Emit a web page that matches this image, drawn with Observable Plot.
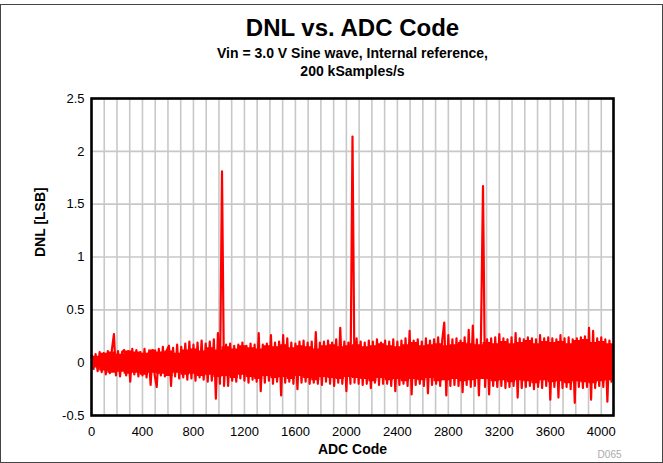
<!DOCTYPE html>
<html>
<head>
<meta charset="utf-8">
<script src="https://cdn.jsdelivr.net/npm/d3@7"></script>
<script src="https://cdn.jsdelivr.net/npm/@observablehq/plot@0.6"></script>
<style>
  html, body { margin: 0; padding: 0; background: #fff; }
  #wrap { position: relative; width: 663px; height: 463px; overflow: hidden; }
  #border { position: absolute; left: 0; top: 4px; width: 661px; height: 457px; border: 1px solid #444; pointer-events: none; }
</style>
</head>
<body>
<div id="wrap"><div id="border"></div></div>
<script>
// ---- Data ----
const titleText = "DNL vs. ADC Code";
const subtitle1 = "Vin = 3.0 V Sine wave, Internal reference,";
const subtitle2 = "200 kSamples/s";
const xLabel = "ADC Code";
const yLabel = "DNL [LSB]";
const figId = "D065";

const xTicks = [0, 400, 800, 1200, 1600, 2000, 2400, 2800, 3200, 3600, 4000];
const xGrid = [100,200,300,400,500,600,700,800,900,1000,1100,1200,1300,1400,1500,1600,1700,1800,1900,2000,
               2100,2200,2300,2400,2500,2600,2700,2800,2900,3000,3100,3200,3300,3400,3500,3600,3700,3800,3900,4000];
const yTicks = [-0.5, 0, 0.5, 1, 1.5, 2, 2.5];

// Solid part of the noisy trace: upper / lower edge read every 64 codes (0 ... 4096)
const coreStep = 64;
const coreHi = [
  0.06,0.09,0.10,0.08,0.11,0.10,0.09,0.12,0.10,0.11,0.09,0.12,0.13,0.11,0.14,0.12,
  0.15,0.13,0.16,0.14,0.13,0.16,0.15,0.17,0.14,0.16,0.15,0.13,0.16,0.17,0.15,0.16,
  0.17,0.15,0.16,0.18,0.16,0.15,0.17,0.19,0.16,0.17,0.18,0.16,0.17,0.19,0.18,0.17,
  0.19,0.18,0.20,0.18,0.19,0.21,0.18,0.20,0.19,0.20,0.18,0.21,0.22,0.19,0.20,0.18,
  0.15
];
const coreLo = [
  -0.05,-0.08,-0.10,-0.09,-0.11,-0.10,-0.12,-0.10,-0.11,-0.13,-0.10,-0.12,-0.11,-0.13,-0.12,-0.14,
  -0.13,-0.15,-0.12,-0.14,-0.16,-0.13,-0.15,-0.14,-0.16,-0.13,-0.15,-0.17,-0.14,-0.15,-0.16,-0.14,
  -0.15,-0.16,-0.18,-0.15,-0.17,-0.16,-0.18,-0.16,-0.17,-0.15,-0.18,-0.17,-0.16,-0.18,-0.17,-0.16,
  -0.16,-0.18,-0.17,-0.19,-0.17,-0.18,-0.20,-0.17,-0.19,-0.18,-0.20,-0.18,-0.19,-0.20,-0.18,-0.17,
  -0.14
];

const codeStep = 16; // codes between consecutive read values
// DNL values read every 16 codes (starting at code 0)
const dnl = [
  0.07,-0.06,0.08,-0.08,0.10,-0.09,0.09,-0.11,0.11,-0.10,0.12,0.27,-0.12,0.11,-0.13,0.10,
  0.12,-0.12,0.11,-0.18,0.13,-0.11,0.12,-0.13,0.10,-0.12,0.13,-0.14,0.09,-0.21,0.12,-0.12,
  -0.23,0.13,-0.12,0.15,-0.13,0.12,0.16,-0.22,0.14,-0.13,0.17,-0.15,0.15,-0.14,0.18,-0.16,
  0.20,-0.15,0.17,-0.17,0.19,-0.14,0.21,-0.16,0.18,-0.18,0.20,-0.17,0.22,-0.34,0.28,-0.20,
  1.81,-0.22,0.17,-0.22,0.18,-0.17,0.16,-0.18,0.17,-0.15,0.19,-0.17,0.16,-0.19,0.18,-0.16,
  0.17,-0.18,0.28,-0.27,0.17,-0.19,0.18,-0.17,0.26,-0.20,0.19,-0.18,0.20,-0.31,0.26,-0.19,
  0.23,-0.18,0.19,-0.20,0.18,-0.25,0.20,-0.19,0.21,-0.18,0.19,-0.20,0.20,-0.19,0.29,-0.20,
  0.19,-0.21,0.20,-0.18,0.21,-0.20,0.19,-0.22,0.22,-0.19,0.33,-0.20,0.20,-0.27,0.19,-0.20,
  2.14,-0.19,0.23,-0.20,0.20,-0.21,0.19,-0.20,0.21,-0.24,0.20,-0.19,0.22,-0.21,0.19,-0.20,
  0.21,-0.20,0.20,-0.22,0.22,-0.27,0.20,-0.21,0.21,-0.20,0.23,-0.22,0.30,-0.30,0.21,-0.21,
  0.22,-0.20,0.20,-0.22,0.23,-0.29,0.21,-0.21,0.22,-0.20,0.24,-0.22,0.21,0.38,-0.31,0.26,
  -0.22,0.22,-0.21,0.23,-0.22,0.21,-0.28,0.24,-0.21,0.31,-0.23,0.35,-0.22,0.22,-0.31,0.23,
  1.67,-0.23,0.22,-0.30,0.23,-0.22,0.24,-0.23,0.27,-0.22,0.23,-0.24,0.22,-0.23,0.24,-0.22,
  0.28,-0.33,0.23,-0.24,0.22,-0.23,0.24,-0.22,0.23,-0.25,0.22,-0.23,0.26,-0.24,0.23,-0.22,
  0.24,-0.35,0.23,-0.23,0.22,-0.33,0.26,-0.24,0.23,-0.23,0.24,-0.25,0.22,-0.38,0.23,-0.23,
  0.24,-0.24,0.25,-0.23,0.33,-0.35,0.30,-0.24,0.23,-0.22,0.24,-0.23,0.22,-0.37,0.21,-0.18
];

const data = dnl.map((v, i) => ({code: i * codeStep, dnl: v}));
const core = coreHi.map((h, i) => ({code: i * coreStep, hi: h, lo: coreLo[i]}));

const font = "'Liberation Sans', Arial, Helvetica, sans-serif";

const chart = Plot.plot({
  width: 663,
  height: 463,
  marginLeft: 91,
  marginRight: 50,
  marginTop: 98,
  marginBottom: 48,
  style: {fontFamily: font, fontSize: "13px", color: "#000", background: "transparent"},
  x: {domain: [0, 4096], label: null},
  y: {domain: [-0.5, 2.5], label: null},
  marks: [
    Plot.gridX(xGrid, {stroke: "#c8c8c8", strokeOpacity: 1, strokeWidth: 1.6}),
    Plot.gridY(yTicks, {stroke: "#c8c8c8", strokeOpacity: 1, strokeWidth: 1.6}),
    Plot.areaY(core, {x: "code", y1: "lo", y2: "hi", fill: "#ff0000", curve: "step-after"}),
    Plot.lineY(data, {x: "code", y: "dnl", stroke: "#ff0000", strokeWidth: 2.2}),
    Plot.frame({stroke: "#000", strokeWidth: 2.6}),
    Plot.axisX(xTicks, {tickSize: 0, tickPadding: 11, tickFormat: d => String(d), fontSize: 13, label: null}),
    Plot.axisY(yTicks, {tickSize: 0, tickPadding: 7, tickFormat: d => String(d), fontSize: 13, label: null}),
    Plot.text([titleText], {frameAnchor: "top", dy: -80, fontSize: 24, fontWeight: "bold"}),
    Plot.text([subtitle1], {frameAnchor: "top", dy: -50, fontSize: 14, fontWeight: "bold"}),
    Plot.text([subtitle2], {frameAnchor: "top", dy: -32, fontSize: 14, fontWeight: "bold"}),
    Plot.text([yLabel], {frameAnchor: "left", dx: -51, rotate: -90, fontSize: 14, fontWeight: "bold"}),
    Plot.text([xLabel], {frameAnchor: "bottom", dy: 38, fontSize: 14, fontWeight: "bold"}),
    Plot.text([figId], {frameAnchor: "bottom-right", dx: 8, dy: 42, fontSize: 10, fill: "#aaaaaa"})
  ]
});

document.getElementById("wrap").prepend(chart);
</script>
</body>
</html>
